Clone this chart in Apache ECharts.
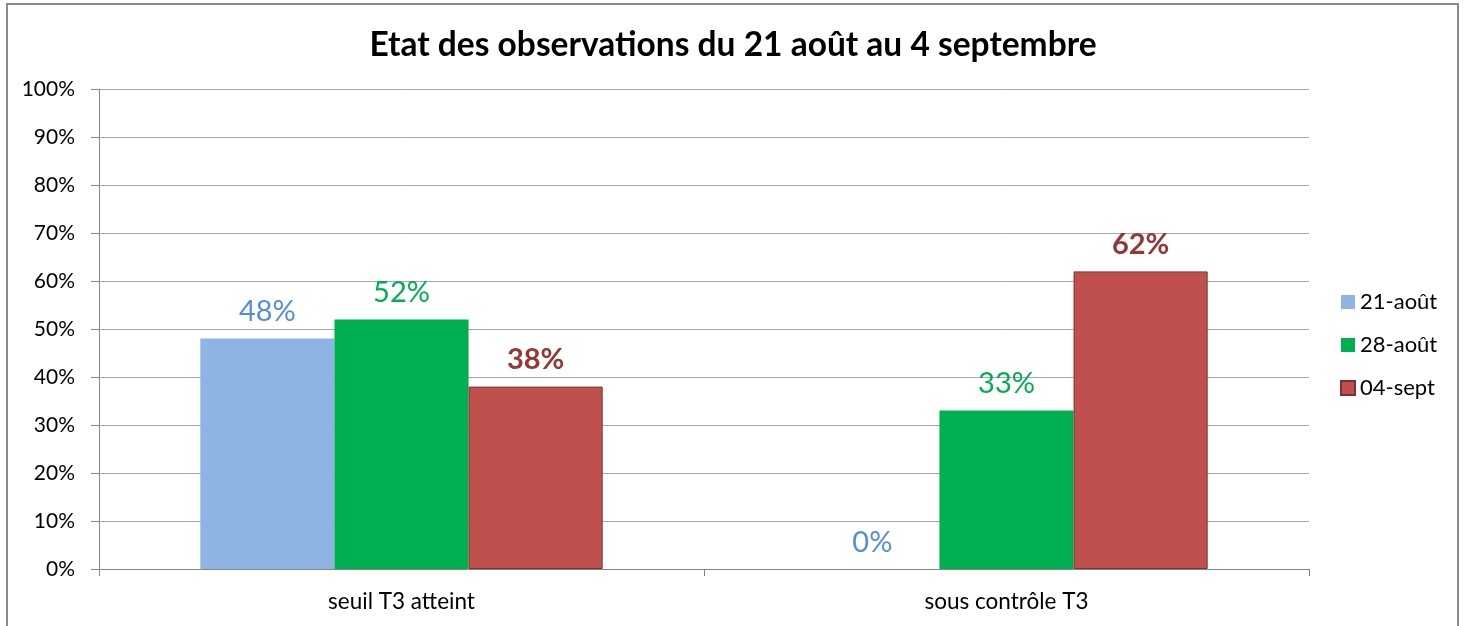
<!DOCTYPE html>
<html>
<head>
<meta charset="utf-8">
<script src="https://cdn.jsdelivr.net/npm/echarts@6/dist/echarts.min.js"></script>
<style>
html,body{margin:0;padding:0;background:#fff;}
#chart{width:1466px;height:626px;}
</style>
</head>
<body>
<div id="chart"></div>
<script>
const categories = ['seuil T3 atteint', 'sous contrôle T3'];
const seriesNames = ['21-août', '28-août', '04-sept'];
const aout21 = [48, 0];
const aout28 = [52, 33];
const sept04 = [38, 62];
const yTicks = [0, 10, 20, 30, 40, 50, 60, 70, 80, 90, 100];

const FONT = 'Lato, "Open Sans", sans-serif';
const chart = echarts.init(document.getElementById('chart'));

function lbl(color, bold) {
  return {
    show: true, position: 'top', distance: 12,
    formatter: '{c}%', color: color, fontSize: 29,
    fontWeight: bold ? 'bold' : 'normal', fontFamily: FONT
  };
}

chart.setOption({
  animation: false,
  backgroundColor: '#fff',
  title: {
    text: 'Etat des observations du 21 août au 4 septembre',
    left: 'center', top: 23,
    textStyle: { fontSize: 33.5, fontWeight: 'bold', color: '#000', fontFamily: FONT }
  },
  graphic: [{
    type: 'rect', silent: true,
    shape: { x: 7, y: 4, width: 1451, height: 700 },
    style: { fill: 'none', stroke: '#8a8a8a', lineWidth: 2 }
  }],
  legend: {
    orient: 'vertical', left: 1340, top: 291, padding: 0,
    itemWidth: 14, itemHeight: 14, itemGap: 21,
    icon: 'rect',
    textStyle: { fontSize: 22, color: '#000', fontFamily: FONT, padding: [0, 0, 0, 0] },
    data: seriesNames
  },
  grid: { left: 99, right: 157, top: 89, bottom: 57, containLabel: false },
  xAxis: {
    type: 'category', data: categories,
    axisLine: { lineStyle: { color: '#868686', width: 1 } },
    axisTick: { show: true, length: 7, lineStyle: { color: '#868686' } },
    axisLabel: { fontSize: 22.5, color: '#000', margin: 21, fontFamily: FONT }
  },
  yAxis: {
    type: 'value', min: 0, max: 100, interval: 10,
    axisLine: { show: true, lineStyle: { color: '#868686' } },
    axisTick: { show: true, length: 8, lineStyle: { color: '#868686' } },
    splitLine: { lineStyle: { color: '#a6a6a6' } },
    axisLabel: { formatter: '{value}%', fontSize: 21, color: '#000', margin: 24, fontFamily: FONT }
  },
  series: [
    { name: seriesNames[0], type: 'bar', data: aout21, barGap: '0%', barCategoryGap: '33.5%',
      itemStyle: { color: '#8EB4E3' }, label: lbl('#558ED5', false) },
    { name: seriesNames[1], type: 'bar', data: aout28, barGap: '0%', barCategoryGap: '33.5%',
      itemStyle: { color: '#00B050' }, label: lbl('#00B050', false) },
    { name: seriesNames[2], type: 'bar', data: sept04, barGap: '0%', barCategoryGap: '33.5%',
      itemStyle: { color: '#C0504D', borderColor: '#7a3331', borderWidth: 1 }, label: lbl('#953735', true) }
  ]
});
</script>
</body>
</html>
